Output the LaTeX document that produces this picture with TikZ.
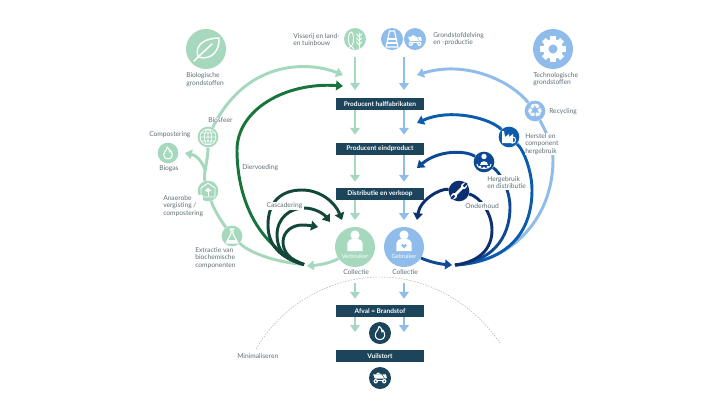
\documentclass[tikz,border=0pt]{standalone}
\usepackage{fontspec}
\setmainfont{Lato}
\newfontfamily\symfont{DejaVu Sans}
\usetikzlibrary{arrows.meta,shapes.geometric}
\definecolor{lgreen}{HTML}{A6D8BD}
\definecolor{dgreen}{HTML}{17753C}
\definecolor{cgreen}{HTML}{12473A}
\definecolor{lblue}{HTML}{8FBCEB}
\definecolor{mblue}{HTML}{0B5CAD}
\definecolor{hblue}{HTML}{0E4A94}
\definecolor{nblue}{HTML}{0B2F70}
\definecolor{bar}{HTML}{1C455B}
\definecolor{txt}{HTML}{5F7078}
\tikzset{
  lbl/.style={anchor=west,inner sep=0pt,align=left,text=txt,fill=white,font=\fontsize{5}{5.7}\selectfont},
  barbox/.style={fill=bar,text=white,inner sep=0pt,minimum width=66pt,minimum height=9pt,font=\fontsize{4.9}{5.7}\selectfont\bfseries},
  big/.style={circle,inner sep=0pt,minimum size=30pt},
  mid/.style={circle,inner sep=0pt,minimum size=15.5pt},
  top/.style={circle,inner sep=0pt,minimum size=16.5pt},
  usr/.style={circle,inner sep=0pt,minimum size=30pt},
  tip/.style={-{Triangle[width=7.2pt,length=5.2pt]},line width=2.2pt},
  plainl/.style={line width=2.2pt},
  ico/.style={white,line width=.7pt,line join=round,line cap=round},
  icof/.style={fill=white,draw=none}
}
\newcommand\truckicon[3]{\begin{scope}[shift={(#1,#2)}]
  \fill[white] (-8,-3) -- (2,-3) -- (5,2) -- (-6,2) -- cycle;
  \fill[white] (3,-3) -- (7,-3) -- (8,1) -- (6,2) -- cycle;
  \fill[white] (-5,-3) .. controls (-3,-6) and (0,-6) .. (1,-3) -- cycle;
  \fill[white] (-7,3) rectangle (7,4);
  \fill[white] (-5,5) circle (2.6) (5,5) circle (2.6);
  \fill[#3] (-5,5) circle (1) (5,5) circle (1);
\end{scope}}
\newcommand\flameicon[4]{\begin{scope}[shift={(#1,#2)},scale=#3]
  \draw[white,line width=.8pt,line join=round] (0,7) .. controls (-5,7) and (-6,2) .. (-4,-1)
     .. controls (-3,-3) and (-1,-4) .. (-1,-7) .. controls (2,-5) and (2,-3) .. (2,-1)
     .. controls (3,-2) and (3,-3) .. (3,-3) .. controls (6,0) and (6,7) .. (0,7) -- cycle;
\end{scope}}
\newcommand\personicon[3]{\begin{scope}[shift={(#1,#2)}]
  \fill[white] (0,-12) circle (4.6);
  \fill[white] (-7.6,4) -- (-7.6,-4) .. controls (-7.6,-7) and (-4,-8) .. (-2.5,-8) -- (2.5,-8)
     .. controls (4,-8) and (7.6,-7) .. (7.6,-4) -- (7.6,4) -- cycle;
\end{scope}}
\begin{document}
\begin{tikzpicture}[x=0.75pt,y=-0.75pt]
\useasboundingbox (0,0) rectangle (720,405);
\fill[white] (0,0) rectangle (720,405);

% dashed boundary
\coordinate (dashL) at (256,349);
\coordinate (dashR) at (500,343);
\draw[gray!70,line width=.3pt,dash pattern=on 1.2pt off .9pt] (dashL) .. controls (285,300) and (335,277) .. (380,277) .. controls (425,277) and (470,300) .. (dashR);

% bars
\node[barbox] (bar1) at (380,104) {Producent halffabrikaten};
\node[barbox] (bar2) at (380,149) {Producent eindproduct};
\node[barbox] (bar3) at (380,194) {Distributie en verkoop};
\node[barbox] (bar4) at (380,311) {Afval = Brandstof};
\node[barbox] (bar5) at (380,356) {Vuilstort};

% circles
\node[big,fill=lgreen] (leaf) at (206,49) {};
\node[big,fill=lblue] (gear) at (553,49) {};
\node[top,fill=lgreen] (visserij) at (355,39) {};
\node[top,fill=lblue] (tower) at (392,39) {};
\node[top,fill=lblue] (mine) at (415,39) {};
\node[mid,fill=lgreen] (biosfeer) at (208,137) {};
\node[mid,fill=lgreen] (biogas) at (168,153) {};
\node[mid,fill=lgreen] (anaerobe) at (208,191) {};
\node[mid,fill=lgreen] (extractie) at (232,236) {};
\node[usr,fill=lgreen] (verbruiker) at (355,247) {};
\node[usr,fill=lblue] (gebruiker) at (404,247) {};
\node[mid,fill=lblue] (recycling) at (535,111) {};
\node[mid,fill=mblue] (herstel) at (509,137) {};
\node[mid,fill=hblue] (hergebruik) at (484,162) {};
\node[mid,fill=nblue] (onderhoud) at (459,191) {};
\node[top,fill=bar] (fire) at (380,333) {};
\node[top,fill=bar] (dump) at (380,378) {};

% named free ends
\coordinate (lx) at (355,0); \coordinate (bx) at (404,0);
\coordinate (gs1) at (355,57); \coordinate (gt1) at (355,90);
\coordinate (bs1) at (404,57); \coordinate (bt1) at (404,90);
\coordinate (gc) at (355,283); \coordinate (bc) at (404,283);
\coordinate (gw) at (355,332); \coordinate (bw) at (404,332);
\coordinate (tipA) at (343,75); \coordinate (tipB) at (343,86);
\coordinate (tipC) at (417,75); \coordinate (tipD) at (417,123);
\coordinate (tipE) at (417,168); \coordinate (tipF) at (417,220);
\coordinate (hubL) at (304,264.5); \coordinate (hubR) at (455,265);
\coordinate (tipU) at (307,266); \coordinate (tipV) at (452,265);
\coordinate (branch) at (205,170); \coordinate (tipG) at (185,153);

% vertical flows
\draw[tip,lgreen] (gs1) -- (gt1);
\draw[tip,lblue] (bs1) -- (bt1);
\draw[tip,lgreen,shorten >=6pt] (bar1.south -| lx) -- (bar2.north -| lx);
\draw[tip,lblue,shorten >=6pt] (bar1.south -| bx) -- (bar2.north -| bx);
\draw[tip,lgreen,shorten >=4.5pt] (bar2.south -| lx) -- (bar3.north -| lx);
\draw[tip,lblue,shorten >=4.5pt] (bar2.south -| bx) -- (bar3.north -| bx);
\draw[tip,lgreen,shorten >=5pt] (bar3.south -| lx) -- (verbruiker.north);
\draw[tip,lblue,shorten >=5pt] (bar3.south -| bx) -- (gebruiker.north);
\draw[tip,lgreen,shorten >=4.5pt] (gc) -- (bar4.north -| lx);
\draw[tip,lblue,shorten >=4.5pt] (bc) -- (bar4.north -| bx);
\draw[tip,lgreen] (bar4.south -| lx) -- (gw);
\draw[tip,lblue] (bar4.south -| bx) -- (bw);

% biological cycle
\draw[plainl,lgreen] (hubL) .. controls (275,262) and (250,253) .. (extractie);
\draw[plainl,lgreen] (extractie) .. controls (222,222) and (214,210) .. (anaerobe);
\draw[plainl,lgreen] (anaerobe) .. controls (203,175) and (208,160) .. (biosfeer);
\draw[tip,lgreen] (branch) .. controls (202,160) and (195,155) .. (tipG);
\draw[tip,lgreen] (biosfeer) .. controls (245,62) and (305,60) .. (tipA);
\draw[tip,lgreen] (verbruiker.215) .. controls (328,264) and (318,265) .. (tipU);
% feed
\draw[tip,dgreen] (hubL) .. controls (255,245) and (237,195) .. (237,150) .. controls (237,110) and (285,82) .. (tipB);
% cascading
\coordinate (c1) at (342,220); \coordinate (c2) at (330,222); \coordinate (c3) at (318,227);
\draw[tip,cgreen] (hubL) .. controls (280,258) and (268,245) .. (268,225) .. controls (268,200) and (283,190) .. (302,190) .. controls (320,190) and (335,202) .. (c1);
\draw[tip,cgreen] (hubL) .. controls (285,260) and (277,250) .. (277,235) .. controls (277,218) and (290,208) .. (304,208) .. controls (315,208) and (324,214) .. (c2);
\draw[tip,cgreen] (hubL) .. controls (290,260) and (283,252) .. (283,242) .. controls (283,231) and (293,225) .. (302,225) .. controls (308,225) and (313,226) .. (c3);
% technical cycles
\draw[tip,hblue] (gebruiker.-33) .. controls (430,262) and (440,264) .. (tipV);
\draw[plainl,lblue] (hubR) .. controls (515,262) and (553,215) .. (553,160) .. controls (553,145) and (545,130) .. (recycling);
\draw[tip,lblue] (recycling) .. controls (510,80) and (465,60) .. (tipC);
\draw[plainl,mblue] (hubR) .. controls (505,262) and (532,235) .. (532,190) .. controls (532,172) and (524,150) .. (herstel);
\draw[tip,mblue] (herstel) .. controls (490,118) and (450,108) .. (tipD);
\draw[plainl,hblue] (hubR) .. controls (490,262) and (510,240) .. (510,207) .. controls (510,190) and (500,172) .. (hergebruik);
\draw[tip,hblue] (hergebruik) .. controls (465,150) and (438,150) .. (tipE);
\draw[plainl,nblue] (hubR) .. controls (478,262) and (492,250) .. (492,230) .. controls (492,213) and (480,197) .. (onderhoud);
\draw[tip,nblue] (onderhoud) .. controls (440,188) and (420,200) .. (tipF);

% labels
\node[lbl] (tbio) at (186,79.5) {Biologische\\grondstoffen};
\node[lbl] (tvis) at (293,39.5) {Visserij en land-\\en tuinbouw};
\node[lbl] (tgro) at (433,39) {Grondstofdelving\\en -productie};
\node[lbl] (ttec) at (533,79) {Technologische\\grondstoffen};
\node[lbl] (tbsf) at (208,120) {Biosfeer};
\node[lbl] (tcom) at (149,135) {Compostering};
\node[lbl] (tbgs) at (159,169) {Biogas};
\node[lbl] (tana) at (163,206) {Anaerobe\\vergisting /\\compostering};
\node[lbl] (text) at (195,258) {Extractie van\\biochemische\\componenten};
\node[lbl] (tdie) at (242,168) {Diervoeding};
\node[lbl,inner xsep=1pt,inner ysep=1pt] (tcas) at (265,206) {Cascadering};
\node[lbl] (trec) at (549,112) {Recycling};
\node[lbl] (ther) at (525,144) {Herstel en\\component\\hergebruik};
\node[lbl,inner ysep=1pt] (thrg) at (487,182.5) {Hergebruik\\en distributie};
\node[lbl,inner ysep=1pt] (tond) at (465,206) {Onderhoud};
\node[lbl] (tcl) at (343,272.5) {Collectie};
\node[lbl] (tcr) at (392,272.5) {Collectie};
\node[lbl] (tmin) at (237,356) {Minimaliseren};

% icons
% leaf
\draw[white,line width=1.1pt,line join=round] (198,57) .. controls (194,44) and (206,38) .. (219,38) .. controls (220,50) and (212,61) .. (198,57) -- cycle;
\draw[white,line width=1.1pt,line cap=round] (194,61) -- (198,57) -- (212,44);
% gear
\begin{scope}[shift={(553,49)}]
  \foreach \a in {0,45,...,315}{\fill[white,rotate=\a] (-2.8,-13) rectangle (2.8,-8);}
  \fill[white] (0,0) circle (10);
  \fill[lblue] (0,0) circle (4.5);
\end{scope}
% visserij
\draw[ico] (351,39) ellipse (2.5 and 7);
\draw[ico] (351,46) -- (348,49) (351,46) -- (354,49);
\draw[ico] (359,33) -- (359,49);
\foreach \yy in {34,38,42}{\draw[ico] (359,\yy+3) -- (356.5,\yy) (359,\yy+3) -- (361.5,\yy);}
% tower
\draw[ico,line width=.8pt] (389.5,31) -- (394.5,31) -- (398,47) -- (386,47) -- cycle;
\draw[ico,line width=.8pt] (388,39) -- (396,39) (387,43) -- (397,43);
% mine truck
\begin{scope}[shift={(415,39.5)},scale=.85]\truckicon{0}{0}{lblue}\end{scope}
\begin{scope}[shift={(380,377)},scale=.85]\truckicon{0}{0}{bar}\end{scope}
% globe
\begin{scope}[shift={(208,137)}]
  \draw[ico,line width=.5pt] (0,0) circle (8) (0,0) ellipse (3.6 and 8) (-8,0) -- (8,0) (0,-8) -- (0,8) (-7,-4) -- (7,-4) (-7,4) -- (7,4);
\end{scope}
\flameicon{168}{153}{.85}{}
% anaerobe house
\draw[ico] (201,197) -- (201,188) -- (208,183) -- (215,188) -- (215,197) -- cycle;
\fill[white] (208,190) circle (2);
\draw[ico] (208,190) -- (208,196) (205,190) -- (211,190);
% flask
\draw[ico,line width=.8pt] (230,229) -- (234,229) (231,229) -- (231,234) -- (226,243) -- (238,243) -- (233,234) -- (233,229);
\fill[white] (228,240) -- (236,240) -- (238,243) -- (226,243) -- cycle;
% persons
\personicon{355}{247}{}
\personicon{404}{247}{}
\fill[lblue] (404,248.5) -- (401.2,245.6) .. controls (400.6,243.6) and (403.4,243.2) .. (404,245) .. controls (404.6,243.2) and (407.4,243.6) .. (406.8,245.6) -- cycle;
\node[inner sep=0pt,text=white,font=\fontsize{4.3}{5}\selectfont] (tv) at (355,256) {Verbruiker};
\node[inner sep=0pt,text=white,font=\fontsize{4.3}{5}\selectfont] (tg) at (404,256) {Gebruiker};
% recycling
\node[inner sep=0pt,text=white,font=\symfont\fontsize{14}{14}\selectfont] (trs) at (535,111) {♻};
% factory
\fill[white] (502,143) -- (502,131) -- (504,131) -- (505,137) -- (509,134) -- (509,137) -- (513,134) -- (513,143) -- cycle;
\draw[white,line width=.7pt] (512.5,140) circle (3.2);
% hergebruik
\fill[white] (484,156.5) circle (2.7);
\fill[white] (480,165) .. controls (480,160) and (488,160) .. (488,165) -- cycle;
\draw[ico] (477,164) .. controls (477,170) and (491,170) .. (491,164);
\fill[white] (480,167) circle (1.3) (484,168) circle (1.3) (488,167) circle (1.3);
% wrench
\begin{scope}[shift={(459,191)},rotate=-45]
  \fill[white] (-1.3,-6) rectangle (1.3,6);
  \fill[white] (0,-7) circle (3) (0,7) circle (3);
  \fill[nblue] (-1.2,-11) rectangle (1.2,-6.5) (-1.2,6.5) rectangle (1.2,11);
\end{scope}
\flameicon{380}{333}{.95}{}
\end{tikzpicture}
\end{document}
